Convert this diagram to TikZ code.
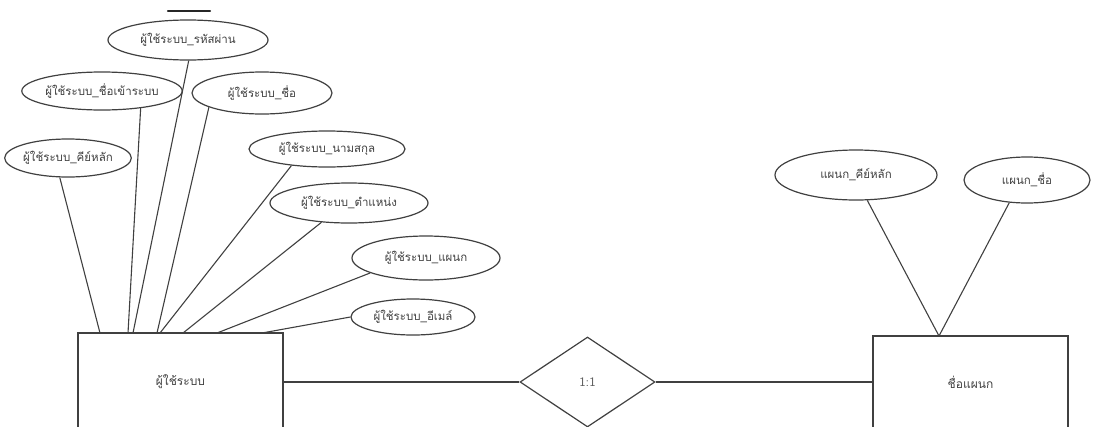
\documentclass[tikz,border=0pt]{standalone}
\usepackage{fontspec}
\newfontfamily\thaifont[Script=Thai]{Loma}
\usetikzlibrary{shapes.geometric}
\begin{document}
\begin{tikzpicture}[x=1pt,y=-1pt,
  ink/.style={draw=black!75, line width=1.2pt},
  attr/.style={ink, ellipse, inner sep=0pt, text=black!75,
    font=\thaifont\fontsize{11.5}{14}\selectfont},
  entity/.style={ink, rectangle, inner sep=0pt, text=black!75,
    font=\thaifont\fontsize{12}{14}\selectfont},
  rel/.style={ink, diamond, inner sep=0pt, text=black!65,
    font=\sffamily\fontsize{13}{15}\selectfont},
  link/.style={draw=black!75, line width=1.1pt}]
\useasboundingbox (0,0) rectangle (1105,426);
\clip (0,0) rectangle (1105,426);

% entities and relationship
\node[entity, minimum width=205pt, minimum height=98pt] (user) at (180.5,382) {ผู้ใช้ระบบ};
\node[entity, minimum width=195pt, minimum height=92pt] (dept) at (970.5,382) {ชื่อแผนก};
\node[rel, minimum width=135pt, minimum height=90pt] (rel) at (587.5,382) {1:1};

% attributes of the user entity
\node[attr, minimum width=160pt, minimum height=40pt] (pw)    at (188,40)  {ผู้ใช้ระบบ\_รหัสผ่าน};
\node[attr, minimum width=160pt, minimum height=38pt] (login) at (102,91)  {ผู้ใช้ระบบ\_ชื่อเข้าระบบ};
\node[attr, minimum width=140pt, minimum height=42pt] (fname) at (262,93)  {ผู้ใช้ระบบ\_ชื่อ};
\node[attr, minimum width=120pt, minimum height=38pt] (pk)    at (68,158)  {ผู้ใช้ระบบ\_คีย์หลัก};
\node[attr, minimum width=156pt, minimum height=36pt] (lname) at (327,149) {ผู้ใช้ระบบ\_นามสกุล};
\node[attr, minimum width=158pt, minimum height=40pt] (pos)   at (349,203) {ผู้ใช้ระบบ\_ตำแหน่ง};
\node[attr, minimum width=148pt, minimum height=44pt] (udept) at (426,258) {ผู้ใช้ระบบ\_แผนก};
\node[attr, minimum width=124pt, minimum height=36pt] (mail)  at (413,317) {ผู้ใช้ระบบ\_อีเมล์};

% attributes of the department entity
\node[attr, minimum width=162pt, minimum height=50pt] (dpk)   at (856,175) {แผนก\_คีย์หลัก};
\node[attr, minimum width=126pt, minimum height=46pt] (dname) at (1027,180) {แผนก\_ชื่อ};

% attachment points on the entity tops
\coordinate (u1) at (100,333);
\coordinate (u2) at (128,333);
\coordinate (u3) at (133,333);
\coordinate (u4) at (157,333);
\coordinate (u5) at (160,333);
\coordinate (u6) at (183,333);
\coordinate (u7) at (217,333);
\coordinate (u8) at (262,333);
\coordinate (d1) at (939,336);

% connectors
\draw[link] (user.east) -- (rel.west);
\draw[link] (rel.east) -- (dept.west);
\draw[link] (pk.247) -- (u1);
\draw[link] (login.336) -- (u2);
\draw[link] (pw.272) -- (u3);
\draw[link] (fname.195) -- (u4);
\draw[link] (lname.205) -- (u5);
\draw[link] (pos.215) -- (u6);
\draw[link] (udept.195) -- (u7);
\draw[link] (mail.180) -- (u8);
\draw[link] (dpk.294) -- (d1);
\draw[link] (dname.232) -- (d1);

% short heavy stroke along the top edge
\draw[line width=2.4pt, black!85, line cap=round] (168,11) -- (210,11);
\end{tikzpicture}
\end{document}
